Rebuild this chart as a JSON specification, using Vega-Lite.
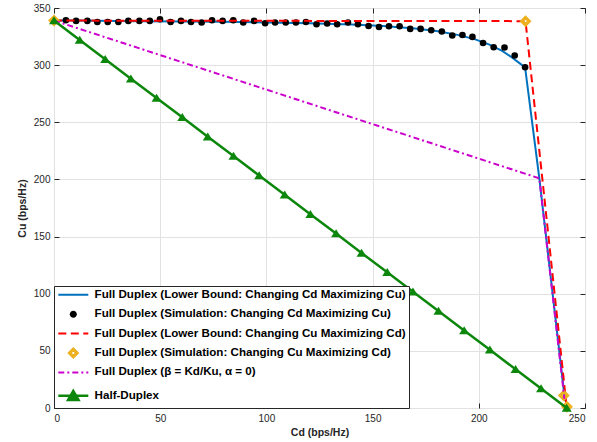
{
  "$schema": "https://vega.github.io/schema/vega-lite/v6.json",
  "width": 531,
  "height": 400,
  "autosize": {"type": "none"},
  "padding": {"left": 54, "top": 8, "right": 12, "bottom": 34},
  "background": "white",
  "config": {
    "font": "Liberation Sans",
    "view": {"stroke": "#262626", "strokeWidth": 1},
    "axis": {
      "labelFont": "Liberation Sans",
      "labelFontSize": 10,
      "labelColor": "#262626",
      "titleFont": "Liberation Sans",
      "titleFontSize": 10.5,
      "titleFontWeight": "bold",
      "titleColor": "#262626",
      "gridColor": "#e2e2e2",
      "gridWidth": 1,
      "domain": false,
      "tickColor": "#262626",
      "tickSize": -5
    }
  },
  "data": {
    "values": [
      {"s": "lbd", "x": 0, "y": 339}, {"s": "lbd", "x": 10, "y": 339}, {"s": "lbd", "x": 20, "y": 338.8}, {"s": "lbd", "x": 40, "y": 338.5}, {"s": "lbd", "x": 60, "y": 338.2}, {"s": "lbd", "x": 80, "y": 337.9}, {"s": "lbd", "x": 100, "y": 337.4}, {"s": "lbd", "x": 120, "y": 336.7}, {"s": "lbd", "x": 140, "y": 335.6}, {"s": "lbd", "x": 155, "y": 334.3}, {"s": "lbd", "x": 170, "y": 332}, {"s": "lbd", "x": 180, "y": 329.8}, {"s": "lbd", "x": 190, "y": 326.5}, {"s": "lbd", "x": 198, "y": 322.8}, {"s": "lbd", "x": 205, "y": 318}, {"s": "lbd", "x": 211, "y": 312.5}, {"s": "lbd", "x": 215, "y": 307.5}, {"s": "lbd", "x": 219, "y": 302}, {"s": "lbd", "x": 221.8, "y": 298}, {"s": "lbd", "x": 228.5, "y": 201}, {"s": "lbd", "x": 240.6, "y": 6},
      {"s": "simd", "x": 5.6, "y": 339.3}, {"s": "simd", "x": 10.4, "y": 338.7}, {"s": "simd", "x": 15.7, "y": 338.7}, {"s": "simd", "x": 20.4, "y": 337.8}, {"s": "simd", "x": 25.3, "y": 337.8}, {"s": "simd", "x": 30.3, "y": 337.8}, {"s": "simd", "x": 35, "y": 338.7}, {"s": "simd", "x": 40.2, "y": 338.7}, {"s": "simd", "x": 45.1, "y": 338.7}, {"s": "simd", "x": 49.9, "y": 340.2}, {"s": "simd", "x": 54.9, "y": 337.8}, {"s": "simd", "x": 59.8, "y": 338.7}, {"s": "simd", "x": 64.5, "y": 337.8}, {"s": "simd", "x": 69.5, "y": 337.3}, {"s": "simd", "x": 74.4, "y": 339.3}, {"s": "simd", "x": 79.4, "y": 338.7}, {"s": "simd", "x": 84.4, "y": 339.3}, {"s": "simd", "x": 89.1, "y": 337.3}, {"s": "simd", "x": 94.2, "y": 338.7}, {"s": "simd", "x": 99.4, "y": 336.7}, {"s": "simd", "x": 104.1, "y": 337.3}, {"s": "simd", "x": 109.1, "y": 337.3}, {"s": "simd", "x": 113.9, "y": 337.3}, {"s": "simd", "x": 118.6, "y": 337.8}, {"s": "simd", "x": 123.6, "y": 335.8}, {"s": "simd", "x": 128.6, "y": 336.4}, {"s": "simd", "x": 133.3, "y": 335.8}, {"s": "simd", "x": 138.4, "y": 337.3}, {"s": "simd", "x": 143.1, "y": 335.8}, {"s": "simd", "x": 148.1, "y": 334.3}, {"s": "simd", "x": 153, "y": 333.4}, {"s": "simd", "x": 157.7, "y": 334}, {"s": "simd", "x": 162.7, "y": 334}, {"s": "simd", "x": 167.7, "y": 331.7}, {"s": "simd", "x": 172.6, "y": 331.7}, {"s": "simd", "x": 177.6, "y": 330.5}, {"s": "simd", "x": 182.6, "y": 329.4}, {"s": "simd", "x": 187.5, "y": 325.9}, {"s": "simd", "x": 192.3, "y": 326.4}, {"s": "simd", "x": 197, "y": 324.7}, {"s": "simd", "x": 202, "y": 319.4}, {"s": "simd", "x": 207, "y": 315.7}, {"s": "simd", "x": 212.1, "y": 315.4}, {"s": "simd", "x": 216.9, "y": 308.4}, {"s": "simd", "x": 221.8, "y": 298.2},
      {"s": "lbu", "x": 0, "y": 339}, {"s": "lbu", "x": 222, "y": 338.5}, {"s": "lbu", "x": 241.3, "y": 2},
      {"s": "simu", "x": 0, "y": 339}, {"s": "simu", "x": 222, "y": 338.5}, {"s": "simu", "x": 240, "y": 11}, {"s": "simu", "x": 241.5, "y": 1},
      {"s": "beta", "x": 0, "y": 339}, {"s": "beta", "x": 228.5, "y": 201}, {"s": "beta", "x": 240.3, "y": 8},
      {"s": "hd", "x": 0, "y": 339}, {"s": "hd", "x": 12.1, "y": 322}, {"s": "hd", "x": 24.1, "y": 305.1}, {"s": "hd", "x": 36.2, "y": 288.2}, {"s": "hd", "x": 48.3, "y": 271.2}, {"s": "hd", "x": 60.4, "y": 254.3}, {"s": "hd", "x": 72.4, "y": 237.3}, {"s": "hd", "x": 84.5, "y": 220.4}, {"s": "hd", "x": 96.6, "y": 203.4}, {"s": "hd", "x": 108.6, "y": 186.5}, {"s": "hd", "x": 120.7, "y": 169.5}, {"s": "hd", "x": 132.8, "y": 152.6}, {"s": "hd", "x": 144.8, "y": 135.6}, {"s": "hd", "x": 156.9, "y": 118.7}, {"s": "hd", "x": 169, "y": 101.7}, {"s": "hd", "x": 181, "y": 84.8}, {"s": "hd", "x": 193.1, "y": 67.8}, {"s": "hd", "x": 205.2, "y": 50.9}, {"s": "hd", "x": 217.3, "y": 33.9}, {"s": "hd", "x": 229.3, "y": 17}, {"s": "hd", "x": 241.4, "y": 0}
    ]
  },
  "encoding": {
    "x": {"field": "x", "type": "quantitative", "scale": {"domain": [0, 250], "nice": false}, "axis": null},
    "y": {"field": "y", "type": "quantitative", "scale": {"domain": [0, 350], "nice": false}, "axis": null},
    "color": {
      "field": "s",
      "type": "nominal",
      "scale": {
        "domain": ["lbd", "simd", "lbu", "simu", "beta", "hd"],
        "range": ["#0072BD", "#000000", "#FF0000", "#EDB120", "#CC00CC", "#0c870c"]
      },
      "legend": {
        "title": null,
        "orient": "bottom-left",
        "offset": 0,
        "padding": 3,
        "fillColor": "white",
        "strokeColor": "#262626",
        "labelFont": "Liberation Sans",
        "labelFontSize": 11.6,
        "labelFontWeight": "bold",
        "labelColor": "#000000",
        "labelLimit": 500,
        "symbolSize": 225,
        "rowPadding": 6.4,
        "symbolOffset": 10.5,
        "labelOffset": 15.5,
        "labelExpr": "{'lbd': 'Full Duplex (Lower Bound: Changing Cd Maximizing Cu)', 'simd': 'Full Duplex (Simulation: Changing Cd Maximizing Cu)', 'lbu': 'Full Duplex (Lower Bound: Changing Cu Maximizing Cd)', 'simu': 'Full Duplex (Simulation: Changing Cu Maximizing Cd)', 'beta': 'Full Duplex (β = Kd/Ku, α = 0)', 'hd': 'Half-Duplex'}[datum.value]",
        "encode": {
          "symbols": {
            "update": {
              "shape": {"signal": "datum.value == 'simd' ? 'M-0.47,0A0.47,0.47,0,1,0,0.47,0A0.47,0.47,0,1,0,-0.47,0Z' : datum.value == 'simu' ? 'M0,-0.8L0.8,0L0,0.8L-0.8,0ZM-0.12,-0.12L-0.12,0.12L0.12,0.12L0.12,-0.12Z' : datum.value == 'hd' ? 'M-2,0H2M0,-0.65L0.7,0.55L-0.7,0.55Z' : 'M-2,0H2'"},
              "fill": {"scale": "color", "field": "value"},
              "stroke": {"scale": "color", "field": "value"},
              "strokeWidth": {"signal": "datum.value == 'simd' || datum.value == 'simu' ? 0 : datum.value == 'beta' ? 2 : datum.value == 'hd' ? 2.5 : 2"},
              "strokeDash": {"signal": "datum.value == 'lbu' ? [8, 4.5] : datum.value == 'beta' ? [6, 3, 2, 3] : [1, 0]"},
              "opacity": {"value": 1},
              "size": {"value": 225}
            }
          }
        }
      }
    }
  },
  "layer": [
    {
      "transform": [{"filter": "datum.s == 'lbd'"}],
      "mark": {"type": "point", "opacity": 0},
      "encoding": {
        "x": {"field": "x", "type": "quantitative", "scale": {"domain": [0, 250], "nice": false},
          "axis": {"orient": "bottom", "values": [0, 50, 100, 150, 200, 250], "title": "Cd (bps/Hz)", "grid": true, "labelPadding": 10, "titlePadding": 4}},
        "y": {"field": "y", "type": "quantitative", "scale": {"domain": [0, 350], "nice": false},
          "axis": {"orient": "left", "values": [0, 50, 100, 150, 200, 250, 300, 350], "title": "Cu (bps/Hz)", "grid": true, "labelPadding": 9, "titlePadding": 6}}
      }
    },
    {
      "transform": [{"filter": "datum.s == 'lbd'"}],
      "mark": {"type": "point", "opacity": 0},
      "encoding": {
        "x": {"field": "x", "type": "quantitative", "scale": {"domain": [0, 250], "nice": false},
          "axis": {"orient": "top", "values": [0, 50, 100, 150, 200, 250], "title": null, "grid": false, "labels": false}},
        "y": {"field": "y", "type": "quantitative", "scale": {"domain": [0, 350], "nice": false},
          "axis": {"orient": "right", "values": [0, 50, 100, 150, 200, 250, 300, 350], "title": null, "grid": false, "labels": false}}
      }
    },
    {
      "transform": [{"filter": "datum.s == 'lbd'"}],
      "mark": {"type": "line", "strokeWidth": 2}
    },
    {
      "transform": [{"filter": "datum.s == 'simd'"}],
      "mark": {"type": "point", "shape": "circle", "size": 44, "filled": true, "opacity": 1, "strokeWidth": 0}
    },
    {
      "transform": [{"filter": "datum.s == 'lbu'"}],
      "mark": {"type": "line", "strokeWidth": 2, "strokeDash": [8, 4.5]}
    },
    {
      "transform": [{"filter": "datum.s == 'simu'"}],
      "mark": {"type": "point", "shape": "M0,-1L1,0L0,1L-1,0ZM-0.15,-0.15L-0.15,0.15L0.15,0.15L0.15,-0.15Z", "size": 144, "filled": true, "opacity": 1, "strokeWidth": 0}
    },
    {
      "transform": [{"filter": "datum.s == 'beta'"}],
      "mark": {"type": "line", "strokeWidth": 2, "strokeDash": [6, 3, 2, 3]}
    },
    {
      "transform": [{"filter": "datum.s == 'hd'"}],
      "mark": {"type": "line", "strokeWidth": 2.5}
    },
    {
      "transform": [{"filter": "datum.s == 'hd'"}],
      "mark": {"type": "point", "shape": "M0,-0.85L1,0.75L-1,0.75Z", "size": 100, "filled": true, "opacity": 1, "strokeWidth": 0}
    }
  ],
  "resolve": {"axis": {"x": "independent", "y": "independent"}}
}
